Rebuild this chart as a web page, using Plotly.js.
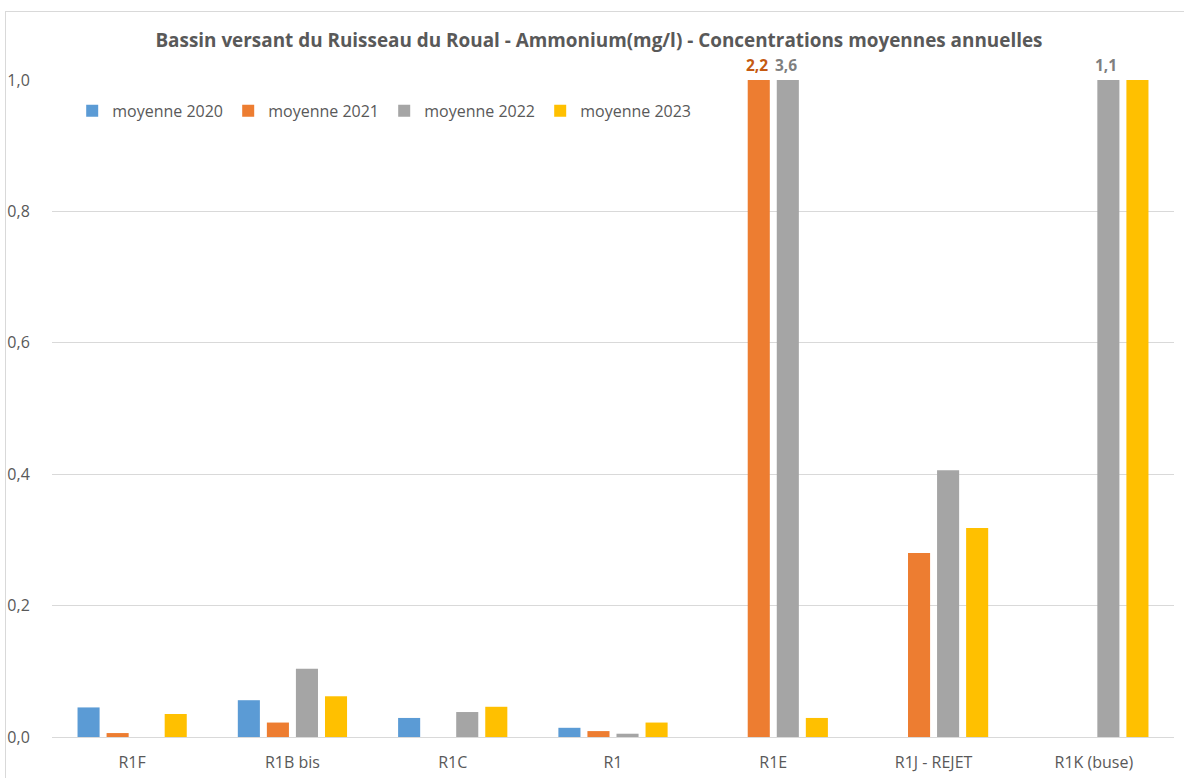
<!DOCTYPE html>
<html>
<head>
<meta charset="utf-8">
<script src="https://cdn.plot.ly/plotly-3.0.1.min.js"></script>
<style>
  html, body { margin: 0; padding: 0; background: #ffffff; }
  #chart { position: absolute; left: 0; top: 0; width: 1184px; height: 778px; }
  #frame { position: absolute; left: 5px; top: 11px; width: 1200px; height: 800px;
           border: 1px solid #d9d9d9; pointer-events: none; }
</style>
</head>
<body>
<div id="chart"></div>
<div id="frame"></div>
<script>
// ---- data ----
const categories = ["R1F", "R1B bis", "R1C", "R1", "R1E", "R1J - REJET", "R1K (buse)"];
const seriesNames = ["moyenne 2020", "moyenne 2021", "moyenne 2022", "moyenne 2023"];
const moyenne2020 = [0.045, 0.056, 0.029, 0.014, null, null, null];
const moyenne2021 = [0.006, 0.022, null, 0.009, 2.2, 0.28, null];
const moyenne2022 = [null, 0.104, 0.038, 0.005, 3.6, 0.406, 1.1];
const moyenne2023 = [0.035, 0.062, 0.046, 0.022, 0.029, 0.318, 1.3];
const seriesColors = ["#5B9BD5", "#ED7D31", "#A5A5A5", "#FFC000"];
const labelColors = ["#41719C", "#C55A11", "#7F7F7F", "#BF9000"];
// data labels shown for bars above the axis maximum: [series index, category]
const shownLabels = [[1, "R1E"], [2, "R1E"], [2, "R1K (buse)"]];
const yMax = 1.0;

const allSeries = [moyenne2020, moyenne2021, moyenne2022, moyenne2023];
const FONT = "'Open Sans', 'Noto Sans', sans-serif";
const bargap = 0.275, bargroupgap = 0.24;

const traces = allSeries.map((vals, i) => ({
  type: "bar",
  name: seriesNames[i],
  x: categories,
  y: vals,
  marker: { color: seriesColors[i], line: { width: 0 } },
  hoverinfo: "x+y+name"
}));

const fmt = v => v.toFixed(1).replace(".", ",");
const slot = (1 - bargap) / allSeries.length;
const annotations = shownLabels.map(([s, cat]) => {
  const ci = categories.indexOf(cat);
  return {
    xref: "x", yref: "y",
    x: ci + (s - (allSeries.length - 1) / 2) * slot,
    y: yMax,
    yanchor: "bottom", xanchor: "center", yshift: 2, xshift: -2,
    text: "<b>" + fmt(allSeries[s][ci]) + "</b>",
    showarrow: false,
    font: { family: FONT, size: 15.5, color: labelColors[s] }
  };
});

const layout = {
  width: 1184, height: 778,
  paper_bgcolor: "#ffffff", plot_bgcolor: "#ffffff",
  margin: { l: 52, r: 10, t: 80, b: 41, pad: 0 },
  barmode: "group", bargap: bargap, bargroupgap: bargroupgap,
  font: { family: FONT, size: 15, color: "#595959" },
  title: {
    text: "<b>Bassin versant du Ruisseau du Roual - Ammonium(mg/l) - Concentrations moyennes annuelles</b>",
    font: { family: FONT, size: 18.9, color: "#595959" },
    xref: "paper", x: 0.4875, xanchor: "center",
    yref: "container", y: 1 - 40 / 778, yanchor: "middle"
  },
  separators: ", ",
  showlegend: true,
  legend: {
    orientation: "h", x: 0.018, y: 0.979, xanchor: "left", yanchor: "top",
    font: { family: FONT, size: 16, color: "#595959" },
    itemwidth: 30, entrywidth: 111, entrywidthmode: "pixels",
    traceorder: "normal", bgcolor: "rgba(0,0,0,0)"
  },
  xaxis: {
    type: "category",
    showgrid: false, zeroline: false,
    showline: true, linecolor: "#d9d9d9", linewidth: 1,
    ticks: "outside", ticklen: 11, tickcolor: "rgba(0,0,0,0)",
    tickfont: { family: FONT, size: 16, color: "#595959" },
    fixedrange: true
  },
  yaxis: {
    range: [0, yMax], dtick: 0.2, tickformat: ".1f",
    showgrid: true, gridcolor: "#d9d9d9", gridwidth: 1,
    zeroline: false, showline: false,
    ticks: "outside", ticklen: 18, tickcolor: "rgba(0,0,0,0)",
    tickfont: { family: FONT, size: 16, color: "#595959" },
    fixedrange: true
  },
  annotations: annotations
};

Plotly.newPlot("chart", traces, layout, { displayModeBar: false, staticPlot: true });
</script>
</body>
</html>
